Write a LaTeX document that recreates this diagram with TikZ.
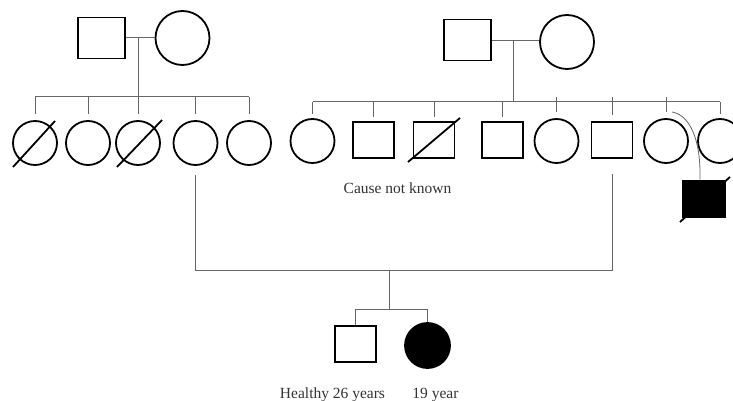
\documentclass[tikz,border=0pt]{standalone}
\usepackage{fontspec}
\setmainfont{Liberation Serif}
\usetikzlibrary{calc}
\definecolor{conncol}{HTML}{666666}
\definecolor{txtcol}{HTML}{333333}
\begin{document}
\begin{tikzpicture}[x=1pt,y=-1pt,
  male/.style={draw=black,rectangle,line width=1.8pt,minimum width=41pt,minimum height=36pt,inner sep=0pt},
  bigmale/.style={male,minimum width=47pt,minimum height=41pt},
  female/.style={draw=black,circle,line width=1.8pt,minimum size=44pt,inner sep=0pt},
  bigfemale/.style={female,minimum size=54pt},
  conn/.style={draw=conncol,line width=1pt},
  slash/.style={draw=black,line width=1.8pt},
  lbl/.style={text=txtcol,font=\fontsize{15.5}{18}\selectfont,inner sep=0pt,anchor=base}]
\clip (0,0) rectangle (733,401);
% left grandparents
\node[bigmale] (gm1) at (101.5,38) {};
\node[bigfemale] (gf1) at (182.5,38) {};
\coordinate (mar1) at (138,38);
\coordinate (sl) at (138,97);
% right grandparents
\node[bigmale] (gm2) at (467.5,40) {};
\node[bigfemale] (gf2) at (567,42) {};
\coordinate (mar2) at (513,41);
\coordinate (sr) at (513,102);
% left siblings
\node[female] (c1) at (35,143) {};
\node[female] (c2) at (88,143) {};
\node[female] (c3) at (138,143) {};
\node[female] (c4) at (195.5,143) {};
\node[female] (c5) at (249,143) {};
% right siblings
\node[female] (d1) at (312.5,141) {};
\node[male] (d2) at (373.5,140) {};
\node[male] (d3) at (434,140) {};
\node[male] (d4) at (502.5,140) {};
\node[female] (d5) at (556.5,141) {};
\node[male] (d6) at (612,140) {};
\node[female] (d7) at (666,141) {};
\node[female] (d8) at (720,141) {};
% affected male
\node[male,fill=black,minimum width=42pt,minimum height=37pt] (a1) at (704,199) {};
% children
\coordinate (pl) at (389,270);
\coordinate (cl) at (389,309);
\node[male] (p1) at (355.5,344) {};
\node[female,fill=black,minimum size=45pt] (p2) at (427.5,345.5) {};
% labels
\node[lbl] (t1) at (397.5,193) {Cause not known};
\node[lbl] (t2) at (332.5,398) {Healthy 26 years};
\node[lbl] (t3) at (435.5,398) {19 year};
% marriage lines
\draw[conn] (gm1.east |- mar1) -- (gf1.west |- mar1);
\draw[conn] (mar1) -- (sl);
\draw[conn] (gm2.east |- mar2) -- (gf2.west |- mar2);
\draw[conn] (mar2) -- (sr);
% left sibship
\draw[conn] (c1 |- sl) -- (c5 |- sl);
\foreach \n in {c1,c2,c3,c4,c5}
  \draw[conn] (\n |- sl) -- ($(\n.north)+(0,-6)$);
% right sibship
\draw[conn] (d1 |- sr) -- (d8 |- sr);
\foreach \n in {d1,d2,d3,d4,d8}
  \draw[conn] (\n |- sr) -- ($(\n.north)+(0,-4)$);
\foreach \n in {d5,d6,d7}
  \draw[conn] ($(\n |- sr)+(0,-5)$) -- ($(\n.north)+(0,-6)$);
% curve to affected male
\coordinate (cs) at (672,112);
\draw[conn,line width=0.8pt] (cs) .. controls (690,115) and (701,140) .. (a1.north -| 700,0);
% slashes
\draw[slash] ($(c1)+(-22,24)$) -- ($(c1)+(20,-22)$);
\draw[slash] ($(c3)+(-21,24)$) -- ($(c3)+(24,-23)$);
\draw[slash] ($(d3)+(-26,22)$) -- ($(d3)+(26,-22)$);
\draw[slash] ($(a1)+(-24,23)$) -- ($(a1)+(26,-22)$);
% parents of proband
\draw[conn] ($(c4.south)+(0,9)$) -- (c4 |- pl) -- (d6 |- pl) -- ($(d6.south)+(0,15)$);
\draw[conn] (pl) -- (cl);
\draw[conn] (p1 |- cl) -- (p2 |- cl);
\draw[conn] (p1 |- cl) -- (p1.north);
\draw[conn] (p2 |- cl) -- (p2.north);
\end{tikzpicture}
\end{document}
